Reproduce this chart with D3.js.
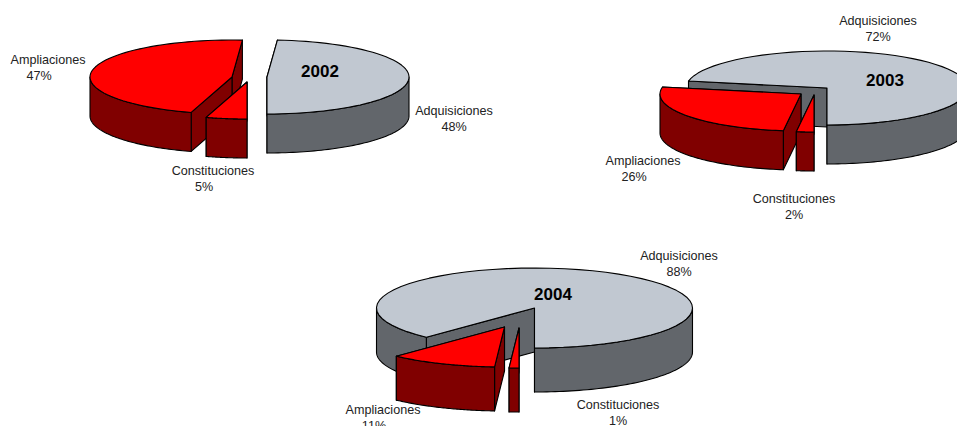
<!DOCTYPE html>
<html>
<head>
<meta charset="utf-8">
<script src="https://cdn.jsdelivr.net/npm/d3@7"></script>
<style>
html,body{margin:0;padding:0;background:#fff;overflow:hidden}
svg{display:block}
text{font-family:"Liberation Sans",Arial,sans-serif}
</style>
</head>
<body>
<svg id="c" width="957" height="426"></svg>
<script>
// ---- data ----
const categories = ["Adquisiciones", "Constituciones", "Ampliaciones"];
const years = ["2002", "2003", "2004"];
const values2002 = [48, 5, 47];
const values2003 = [72, 2, 26];
const values2004 = [88, 1, 11];
const seriesByYear = [values2002, values2003, values2004];

// ---- layout (style and placement only) ----
const topColors = ["#C1C8D1", "#FF0000", "#FF0000"];
const sideColors = ["#62666B", "#800000", "#800000"];
const layouts = [
  { cx: [267, 247, 232], cy: [77, 82, 77], rx: 142, ry: 37, depth: 39, year: [320, 77],
    perspectiveShift: [-3, -1.3],
    labels: [[454, 114.5], [213, 174.5], [48, 63.5]], pct: [[454, 130.5], [204, 190.5], [39, 79.5]] },
  { cx: [827, 814, 801], cy: [88, 95, 94], rx: 141, ry: 37, depth: 39, year: [885, 86],
    perspectiveShift: [0, 0],
    labels: [[878, 24.5], [794, 202.5], [643, 164.5]], pct: [[878, 40.5], [794, 218.5], [634, 180.5]] },
  { cx: [534.5, 519, 504.5], cy: [308, 328, 327], rx: 158, ry: 40, depth: 44, year: [553, 300],
    perspectiveShift: [0, 0],
    labels: [[679, 259.5], [618, 408.5], [383, 413.5]], pct: [[679, 275.5], [618, 424.5], [374, 429.5]] }
];

const svg = d3.select("#c");
const TAU = Math.PI * 2;
const DEG = Math.PI / 180;
const line = d3.line();
const paintOrder = [0, 2, 1];

seriesByYear.forEach((vals, i) => {
  const L = layouts[i];
  const total = d3.sum(vals);
  const start = Math.PI - TAU * vals[0] / total;
  const arcs = d3.pie().sort(null).startAngle(start).endAngle(start + TAU)(vals);
  // the reference's 3D projection moves the seams slightly
  arcs[0].startAngle += L.perspectiveShift[0] * DEG;
  arcs[2].endAngle += L.perspectiveShift[0] * DEG;
  arcs[1].endAngle += L.perspectiveShift[1] * DEG;
  arcs[2].startAngle += L.perspectiveShift[1] * DEG;
  const g = svg.append("g");

  paintOrder.forEach(k => {
    const a = arcs[k];
    const x = d3.scaleLinear().domain([-1, 1]).range([L.cx[k] - L.rx, L.cx[k] + L.rx]);
    const y = d3.scaleLinear().domain([-1, 1]).range([L.cy[k] - L.ry, L.cy[k] + L.ry]);
    const pt = (t, dz = 0) => [x(Math.sin(t)), y(-Math.cos(t)) + dz];
    const apex = (dz = 0) => [x(0), y(0) + dz];
    const sample = (a0, a1, dz = 0) => d3.range(0, 61).map(n => pt(a0 + (a1 - a0) * n / 60, dz));
    const paint = (pts, fill) => g.append("path")
      .attr("d", line(pts) + "Z")
      .attr("fill", fill).attr("stroke", "#000")
      .attr("stroke-width", 1.1).attr("stroke-linejoin", "round");

    // cut faces
    [a.endAngle, a.startAngle].forEach(t => {
      paint([apex(), pt(t), pt(t, L.depth), apex(L.depth)], sideColors[k]);
    });
    // outer wall: the front half of the rim, checked over adjacent turns
    [-TAU, 0, TAU].forEach(off => {
      const w0 = Math.max(a.startAngle, Math.PI / 2 + off);
      const w1 = Math.min(a.endAngle, Math.PI * 1.5 + off);
      if (w1 > w0) {
        paint(sample(w0, w1).concat(sample(w1, w0, L.depth)), sideColors[k]);
      }
    });
    // top
    paint([apex()].concat(sample(a.startAngle, a.endAngle)), topColors[k]);
  });

  const t = svg.append("g").attr("font-size", 12.6).attr("fill", "#222").attr("text-anchor", "middle");
  categories.forEach((c, k) => {
    t.append("text").attr("x", L.labels[k][0]).attr("y", L.labels[k][1]).text(c);
    t.append("text").attr("x", L.pct[k][0]).attr("y", L.pct[k][1]).text(vals[k] + "%");
  });
  svg.append("text").attr("x", L.year[0]).attr("y", L.year[1])
    .attr("text-anchor", "middle").attr("font-size", 17).attr("font-weight", "bold")
    .attr("fill", "#000").text(years[i]);
});
</script>
</body>
</html>
